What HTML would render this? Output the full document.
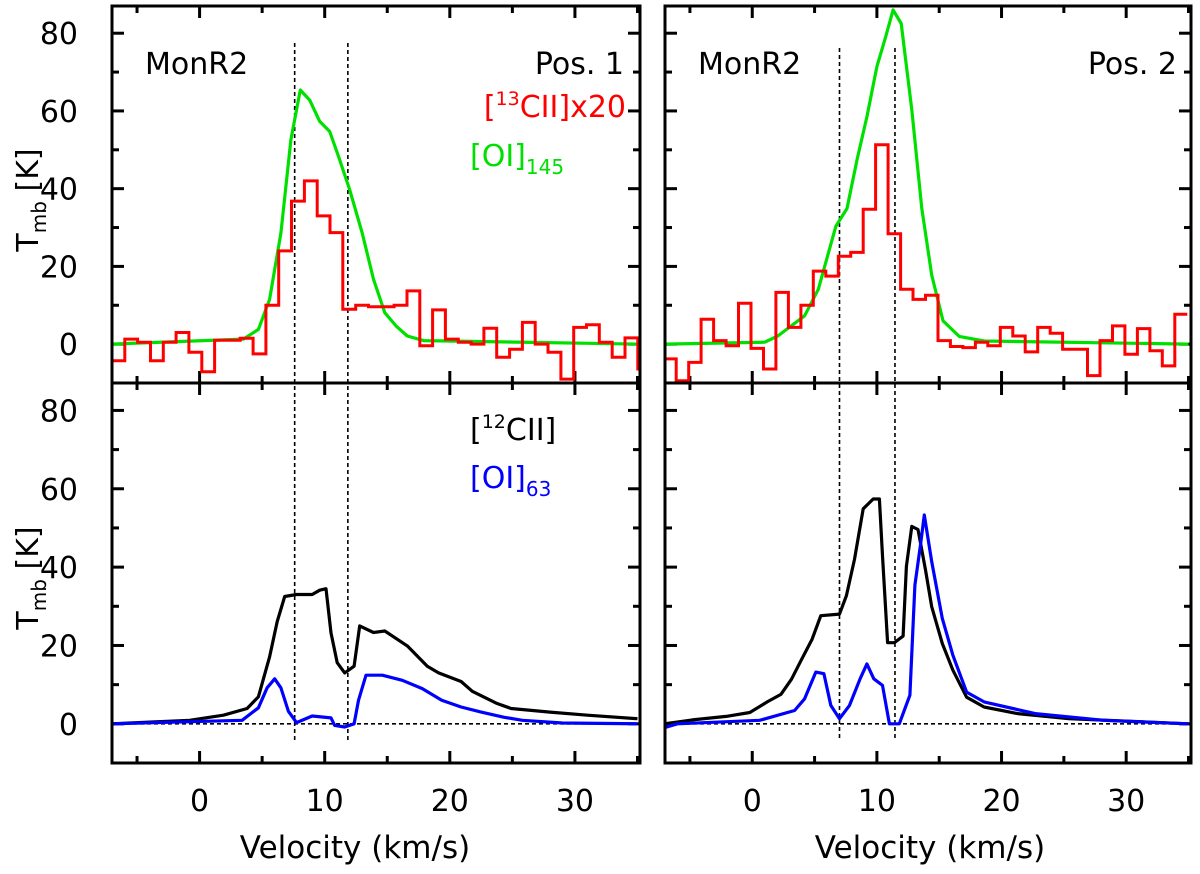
<!DOCTYPE html>
<html><head><meta charset="utf-8"><style>
html,body{margin:0;padding:0;background:#fff;}
svg text{font-family:"DejaVu Sans","Liberation Sans",sans-serif;}
</style></head><body>
<svg id="fig" width="1200" height="869" viewBox="0 0 1200 869" xmlns="http://www.w3.org/2000/svg"></svg>
<script>
// ---- data ----
const xTicks=[0,10,20,30];
const yTicks=[0,20,40,60,80];
// Pos 1 top: [13CII]x20 histogram
const red1Start=-7.0, red1Width=1.025;
const red1=[-4.3,1.3,0.5,-4.3,0.5,3,-2.1,-7.1,1,1,1.5,-2.5,10,24,36.8,42,33,28.7,9,10,9.6,9.6,10,13.7,-0.4,8.8,1.3,0.5,0,4.1,-3.4,-1.3,5.6,0,-2.1,-9,4.3,5,0.5,-3.4,1.6,-6.4];
// Pos 1 top: [OI]145
const green1V=[-7,3.5,4.7,5.6,6.5,7.3,8.05,8.8,9.6,10.4,11.1,12.0,13.0,13.9,14.8,15.7,16.6,17.9,35];
const green1K=[0,1.3,3.8,11.5,28.6,52.6,65.4,62.8,57.3,54.7,48.3,39.7,28.6,16.7,8.1,4.7,2.1,0.9,0];
// Pos 1 bottom: [12CII]
const black1V=[-7,-0.8,1.9,3.8,4.7,5.6,6.2,6.8,7.75,9.0,9.6,10.1,10.5,11.0,11.6,12.35,12.8,13.9,14.8,16.6,18.2,19.1,20.9,21.8,23.7,24.9,28,31,35];
const black1K=[0,0.9,2.2,3.9,6.9,17.1,26.1,32.5,33,33,34.1,34.5,23.2,15.6,13,14.7,25,23.3,23.7,19.9,14.7,13,10.8,8.3,5.3,3.9,3,2.2,1.3];
// Pos 1 bottom: [OI]63
const blue1V=[-7,3.4,4.7,5.4,6.0,6.5,7.1,7.75,9.0,10.5,10.8,11.6,12.35,12.7,13.3,14.6,16.2,17.8,19.35,20.9,22.5,24.3,25.8,29,35];
const blue1K=[0,0.9,4.1,9.2,11.5,9.2,3.2,0.3,2,1.5,-0.4,-0.8,0,6,12.4,12.4,11.1,9,6,4.3,3,1.7,0.9,0.2,0];
// Pos 2 top: [13CII]x20 histogram
const red2Start=-7.1, red2Width=1.0;
const red2=[-3.8,-9.4,-4.7,6.4,0.9,-0.4,10.5,-1.1,-6.4,13.3,4.3,10,18.8,17.5,22.6,23.6,34.7,51.3,28.4,14.1,11.5,12.6,0.9,-0.6,-0.9,0.5,-0.4,4.3,2.1,-2,4.3,2.8,-1.3,-1.3,-8.1,0.9,4.7,-2.6,4,-1.7,-5.6,7.7];
// Pos 2 top: [OI]145
const green2V=[-7,1,2.05,4.2,5.3,6.7,7.6,8.4,9.2,10.0,10.7,11.3,11.95,12.8,13.6,14.4,15.3,16.6,18.6,35];
const green2K=[0,0.5,2.1,7.3,14.1,30.3,34.9,47.4,58.5,71.4,79,86,82.5,60.3,34.9,17.8,6,2,0.8,0];
// Pos 2 bottom: [12CII]
const black2V=[-7,-4.8,-2.1,-0.2,1.2,2.3,3.15,3.97,4.8,5.5,7.0,7.55,8.2,8.9,9.7,10.2,10.45,10.86,11.4,12.1,12.37,12.8,13.3,13.9,14.4,15.25,16.1,17.2,18.6,21.3,25.4,35];
const black2K=[0,1,1.9,2.9,5.6,7.5,11.4,16.5,21.6,27.6,28,32.7,42,54.9,57.4,57.4,42.9,20.7,20.7,22.4,40.2,50.4,49.6,39.3,29.9,20.5,13.7,6.8,4.3,2.6,1.3,0];
// Pos 2 bottom: [OI]63
const blue2V=[-7,-6,0.6,3.4,4.2,5.1,5.75,6.3,7.0,7.8,8.65,9.2,9.75,10.45,11.0,11.8,12.65,13.05,13.5,13.8,14.4,15.25,16.1,17.2,18.6,22.7,28.2,35];
const blue2K=[-0.9,0,0.9,3.4,6.4,13.2,12.8,4.7,1.3,4.7,11.5,15.3,11.5,9.8,0,0,7.3,35.4,45.7,53.3,41.4,26.9,17.5,8.1,5.6,2.6,0.9,0];
const vlines1=[7.6,11.85];
const vlines2=[7.0,11.45];

const NS="http://www.w3.org/2000/svg";
const svg=document.getElementById('fig');
function el(tag,attrs,parent){const e=document.createElementNS(NS,tag);for(const k in attrs)e.setAttribute(k,attrs[k]);(parent||svg).appendChild(e);return e;}
const vMin=-7.0,vMax=35.2,kMin=-10,kMax=87;
function makeAxes(x0,x1,y0,y1){
  return {x:v=>x0+(v-vMin)/(vMax-vMin)*(x1-x0), y:k=>y1-(k-kMin)/(kMax-kMin)*(y1-y0), x0,x1,y0,y1};
}
const P={
 tl:makeAxes(112,640,6,383), bl:makeAxes(112,640,383,763),
 tr:makeAxes(665,1191,6,383), br:makeAxes(665,1191,383,763)
};
function lineSeries(ax,V,K,color,name,clip){
  let d='';V.forEach((v,i)=>{d+=(i?'L':'M')+ax.x(v).toFixed(1)+','+ax.y(K[i]).toFixed(1);});
  const p=el('path',{d:d,fill:'none',stroke:color,'stroke-width':3.2,'stroke-linejoin':'round','clip-path':'url(#'+clip+')'});
  
  
}
function histSeries(ax,start,w,vals,color,name,clip){
  let d='';vals.forEach((k,i)=>{const xa=ax.x(start+i*w),xb=ax.x(start+(i+1)*w),Y=ax.y(k);
    d+=(i?'L':'M')+xa.toFixed(1)+','+Y.toFixed(1)+'L'+xb.toFixed(1)+','+Y.toFixed(1);});
  const p=el('path',{d:d,fill:'none',stroke:color,'stroke-width':3,'clip-path':'url(#'+clip+')'});
  
  
}
const defs=el('defs',{});
function frame(ax,id,showXLabels,showYLabels){
  const cp=el('clipPath',{id:id},defs);
  el('rect',{x:ax.x0,y:ax.y0,width:ax.x1-ax.x0,height:ax.y1-ax.y0},cp);
  const g=el('g',{});
  
  
  for(let v=-5;v<=35;v+=5){const X=ax.x(v);const L=(v%10===0)?12:7;
    el('line',{x1:X,x2:X,y1:ax.y1,y2:ax.y1-L,stroke:'#000','stroke-width':3},g);
    el('line',{x1:X,x2:X,y1:ax.y0,y2:ax.y0+L,stroke:'#000','stroke-width':3},g);}
  for(let k=-10;k<=80;k+=10){const Y=ax.y(k);const L=(k%20===0)?12:7;
    el('line',{x1:ax.x0,x2:ax.x0+L,y1:Y,y2:Y,stroke:'#000','stroke-width':3},g);
    el('line',{x1:ax.x1,x2:ax.x1-L,y1:Y,y2:Y,stroke:'#000','stroke-width':3},g);}
  if(showXLabels){xTicks.forEach(v=>{const t=el('text',{x:ax.x(v),y:811,'font-size':30,'text-anchor':'middle'},g);t.textContent=v;
    });}
  if(showYLabels){yTicks.forEach(k=>{const t=el('text',{x:78,y:ax.y(k)+11,'font-size':30,'text-anchor':'end'},g);t.textContent=k;
    });}
  return g;
}
function border(ax,name){const r=el('rect',{x:ax.x0,y:ax.y0,width:ax.x1-ax.x0,height:ax.y1-ax.y0,fill:'none',stroke:'#000','stroke-width':3});
  }

frame(P.tl,'c-tl',false,true);frame(P.bl,'c-bl',true,true);
frame(P.tr,'c-tr',false,false);frame(P.br,'c-br',true,false);

[P.bl,P.br].forEach(ax=>{const l=el('line',{x1:ax.x0,x2:ax.x1,y1:ax.y(0),y2:ax.y(0),stroke:'#000','stroke-width':1.6,'stroke-dasharray':'4,3'});
  });
vlines1.forEach(v=>{const l=el('line',{x1:P.tl.x(v),x2:P.tl.x(v),y1:43,y2:740,stroke:'#000','stroke-width':1.6,'stroke-dasharray':'4,3'});
  });
vlines2.forEach(v=>{const l=el('line',{x1:P.tr.x(v),x2:P.tr.x(v),y1:48,y2:740,stroke:'#000','stroke-width':1.6,'stroke-dasharray':'4,3'});
  });

lineSeries(P.tl,green1V,green1K,'#00e000','oi145-pos1','c-tl');
histSeries(P.tl,red1Start,red1Width,red1,'#ff0000','13cii-pos1','c-tl');
lineSeries(P.bl,black1V,black1K,'#000','12cii-pos1','c-bl');
lineSeries(P.bl,blue1V,blue1K,'#0000ff','oi63-pos1','c-bl');
lineSeries(P.tr,green2V,green2K,'#00e000','oi145-pos2','c-tr');
histSeries(P.tr,red2Start,red2Width,red2,'#ff0000','13cii-pos2','c-tr');
lineSeries(P.br,black2V,black2K,'#000','12cii-pos2','c-br');
lineSeries(P.br,blue2V,blue2K,'#0000ff','oi63-pos2','c-br');

border(P.tl,'frame-top-left');border(P.bl,'frame-bottom-left');border(P.tr,'frame-top-right');border(P.br,'frame-bottom-right');
</script>
<svg width="1200" height="869" style="position:absolute;left:0;top:0" xmlns="http://www.w3.org/2000/svg" font-family="DejaVu Sans, Liberation Sans, sans-serif">
<text x="145" y="74" font-size="30">MonR2</text>
<text x="624" y="74" font-size="30" text-anchor="end">Pos. 1</text>
<text x="626" y="117" font-size="30" fill="#ff0000" text-anchor="end">[<tspan font-size="19" dy="-12">13</tspan><tspan dy="12">CII]x20</tspan></text>
<text x="470" y="166" font-size="30" fill="#00e000">[OI]<tspan font-size="20" dy="8">145</tspan></text>
<text x="470" y="440" font-size="30">[<tspan font-size="19" dy="-12">12</tspan><tspan dy="12">CII]</tspan></text>
<text x="470" y="488" font-size="30" fill="#0000ff">[OI]<tspan font-size="20" dy="8">63</tspan></text>
<text x="698" y="74" font-size="30">MonR2</text>
<text x="1177" y="74" font-size="30" text-anchor="end">Pos. 2</text>
<text x="355" y="858" font-size="31" text-anchor="middle">Velocity (km/s)</text>
<text x="930" y="858" font-size="31" text-anchor="middle">Velocity (km/s)</text>
<text transform="translate(38,200) rotate(-90)" font-size="30" text-anchor="middle">T<tspan font-size="20" dy="8">mb</tspan><tspan dy="-8"> [K]</tspan></text>
<text transform="translate(38,578) rotate(-90)" font-size="30" text-anchor="middle">T<tspan font-size="20" dy="8">mb</tspan><tspan dy="-8"> [K]</tspan></text>
</svg>
</body></html>
